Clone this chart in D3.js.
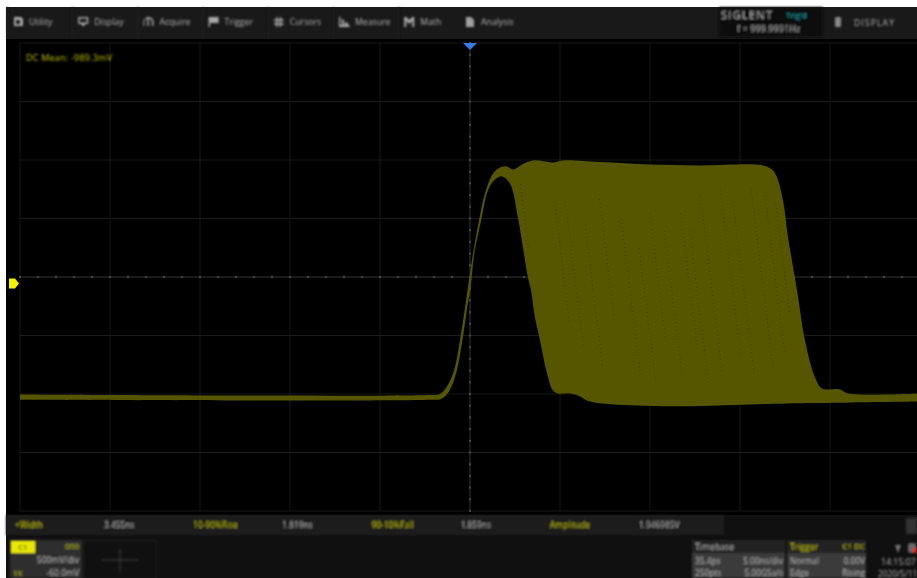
<!DOCTYPE html>
<html>
<head>
<meta charset="utf-8">
<script src="https://cdn.jsdelivr.net/npm/d3@7"></script>
<style>
  html, body { margin: 0; padding: 0; background: #fff; overflow: hidden; }
  svg { display: block; font-family: "Open Sans", Roboto, sans-serif; }
</style>
</head>
<body>
<div id="scope"></div>
<script>
// Waveform envelope (time in ns from the trigger, level in volts)
const upperTime = [-25, -2.22, -1.67, -1.28, -0.89, -0.5, -0.22, -0.06, 0.17, 0.5, 0.83, 1.28, 1.67, 2.06, 2.39, 2.89, 3.5, 4.61, 5.17, 7.22, 10, 12.78, 16.28, 16.78, 17.06, 17.39, 17.67, 18.17, 18.61, 19.17, 19.56, 20.56, 21, 25];
const upperVolt = [-0.949, -0.953, -0.944, -0.88, -0.744, -0.427, -0.145, 0.026, 0.256, 0.538, 0.769, 0.94, 0.991, 1.0, 0.974, 1.017, 1.051, 1.034, 1.051, 1.038, 1.017, 1.009, 1.009, 0.974, 0.906, 0.71, 0.393, -0.06, -0.487, -0.803, -0.897, -0.906, -0.94, -0.94];
const lowerTime = [-25, -2.22, -1.61, -1.17, -0.76, -0.38, -0.11, 0.02, 0.24, 0.62, 1.0, 1.39, 1.78, 2.22, 2.67, 3.22, 3.39, 3.61, 3.89, 4.28, 4.61, 4.89, 5.56, 6, 6.67, 9.28, 12.94, 17.61, 20.39, 21.28, 25];
const lowerVolt = [-0.995, -0.995, -0.987, -0.923, -0.761, -0.444, -0.162, -0.06, 0.256, 0.538, 0.795, 0.889, 0.915, 0.855, 0.556, 0.051, -0.06, -0.291, -0.487, -0.769, -0.915, -0.94, -0.94, -0.957, -1.009, -1.043, -1.047, -1.026, -1.02, -1.017, -1.009];

// Dark dotted streaks inside the band
const streakTime = [2.8, 4.7, 5.3, 6.4, 7.2, 8.4, 9.4, 10, 10.8, 11.7, 12.2, 12.8, 13.9, 14.6, 15.6, 16.4, 17.0];
const streakHigh = [0.85, 0.7, 0.7, 0.5, 0.72, 0.55, 0.3, 0.6, 0.45, 0.6, 0.45, 0.75, 0.8, 0.7, 0.82, 0.75, 0.68];
const streakLow = [0.3, -0.35, -0.55, -0.7, -0.3, -0.78, -0.85, -0.5, -0.8, -0.55, -0.85, -0.75, -0.6, -0.78, -0.72, -0.6, -0.25];

// Screen text
const menuItems = ["Utility", "Display", "Acquire", "Trigger", "Cursors", "Measure", "Math"];
const menuIcons = [
  "M1,-5 h7 l2,2 v7 h-9 z M3,-2 v4 h4 v-4 z",
  "M0,-5 h10 v7 h-3 l-1,2 h-2 l-1,-2 h-3 z M1.5,-3.5 v4 h7 v-4 z",
  "M0,4 v-5 q2,-4 5,-4 q4,0 5,4 v5 h-1.5 v-5 q-1,-2.5 -3,-2.5 v7.5 h-1.5 v-7.5 q-2,0 -3,2.5 v5 z",
  "M0,-5 h10 v6 h-8.5 v4 h-1.5 z",
  "M0,-2.5 h10 v1.5 h-10 z M0,1 h10 v1.5 h-10 z M2.5,-5 h1.5 v10 h-1.5 z M6,-5 h1.5 v10 h-1.5 z",
  "M0,-5 h1.5 v8 h9 v2 h-10.5 z M3,-3 l2,1 v5 h-2 z M6,0 l3,1 v2 h-3 z",
  "M0,-5 h2 l3,3 l3,-3 h2 v10 h-2 v-6 l-3,3 l-3,-3 v6 h-2 z"
];
const measureNames = ["+Width", "10-90%Rise", "90-10%Fall", "Amplitude"];
const measureValues = ["3.455ns", "1.819ns", "1.859ns", "1.946985V"];
const timebaseRows = [["35.4ps", "5.00ns/div"], ["250pts", "5.00GSa/s"]];
const triggerRows = [["Normal", "0.00V"], ["Edge", "Rising"]];

const width = 917, height = 578;
const yellow = "#c4c400", grey = "#b4b4b4";

const root = d3.select("#scope").append("svg").attr("width", width).attr("height", height);

// The photo of the screen is soft everywhere
const defs = root.append("defs");
defs.append("filter").attr("id", "soft").attr("x", 0).attr("y", 0).attr("width", 1).attr("height", 1)
  .append("feGaussianBlur").attr("stdDeviation", 0.6);
defs.append("filter").attr("id", "softer").attr("x", "-5%").attr("y", "-50%").attr("width", "110%").attr("height", "200%")
  .append("feGaussianBlur").attr("stdDeviation", 0.85);

// 5 ns/div and 500 mV/div, channel offset -60 mV
const x = d3.scaleLinear().domain([-25, 25]).range([20, 920]);
const y = d3.scaleLinear().domain([-1.945, 2.055]).range([511, 43]);

// Frame
root.append("rect").attr("x", 6).attr("y", 7).attr("width", width - 6).attr("height", height - 7).attr("fill", "#101010");
root.append("rect").attr("x", 6).attr("y", 7).attr("width", width - 6).attr("height", 32).attr("fill", "#191919");
root.append("rect").attr("x", 6).attr("y", 39).attr("width", width - 6).attr("height", 476).attr("fill", "#000");

const plot = root.append("g").attr("filter", "url(#soft)");
const svg = root.append("g").attr("filter", "url(#softer)");

// Grid
const grid = plot.append("g");
const xTicks = d3.range(-25, 26, 5);
const yTicks = d3.range(-2, 2.01, 0.5).map((d) => d + 0.055);
const centreV = 0.055;
grid.selectAll(".vline").data(xTicks).join("line")
  .attr("x1", (d) => x(d)).attr("x2", (d) => x(d)).attr("y1", 43).attr("y2", 511)
  .attr("stroke", "#1a1a1a").attr("stroke-width", 1);
grid.selectAll(".hline").data(yTicks).join("line")
  .attr("x1", 20).attr("x2", 920).attr("y1", (d) => y(d)).attr("y2", (d) => y(d))
  .attr("stroke", "#1a1a1a").attr("stroke-width", 1);

// Centre cross with its minor ticks
grid.append("line").attr("x1", 20).attr("x2", 920).attr("y1", y(centreV)).attr("y2", y(centreV)).attr("stroke", "#262626");
grid.append("line").attr("x1", x(0)).attr("x2", x(0)).attr("y1", 50).attr("y2", 511).attr("stroke", "#262626");
grid.selectAll(".xminor").data(d3.range(-25, 25.01, 1)).join("rect")
  .attr("x", (d) => x(d) - 1).attr("y", y(centreV) - 1).attr("width", 2).attr("height", 2).attr("fill", "#484848");
grid.selectAll(".yminor").data(d3.range(-2, 2.01, 0.1)).join("rect")
  .attr("x", x(0) - 1).attr("y", (d) => y(d + centreV) - 1).attr("width", 2).attr("height", 2).attr("fill", "#484848");

// Waveform band: top edge left to right, then bottom edge back
const edge = d3.line().x((d) => x(d[0])).y((d) => y(d[1])).curve(d3.curveCatmullRom);
const upperEdge = upperTime.map((t, i) => [t, upperVolt[i]]);
const lowerEdge = lowerTime.map((t, i) => [t, lowerVolt[i]]).reverse();
plot.append("path")
  .attr("d", edge(upperEdge) + "L" + edge(lowerEdge).slice(1) + "Z")
  .attr("fill", "#565600");

plot.append("g").selectAll("line").data(streakTime).join("line")
  .attr("x1", (d) => x(d))
  .attr("y1", (d, i) => y(streakHigh[i]))
  .attr("x2", (d, i) => x(d + (streakHigh[i] - streakLow[i]) * 0.8))
  .attr("y2", (d, i) => y(streakLow[i]))
  .attr("stroke", "#3c3c00").attr("stroke-width", 1).attr("stroke-dasharray", "1 3");

// Trigger position and channel markers
plot.append("path").attr("d", `M${x(0) - 7},43 h14 l-7,7 z`).attr("fill", "#3a78e8");
plot.append("path").attr("d", `M9,${y(0) - 5} h6 l4,5 l-4,5 h-6 z`).attr("fill", "#f4f400");

svg.append("text").attr("x", 26).attr("y", 60.5).attr("font-size", 9).attr("textLength", 86).attr("fill", yellow).text("DC Mean: -989.3mV");

// Menu bar
const menuX = d3.scaleLinear().domain([0, 1]).range([13, 78.2]);
const menu = svg.append("g").selectAll("g").data(menuItems).join("g")
  .attr("transform", (d, i) => `translate(${menuX(i)},22)`);
menu.append("path").attr("d", (d, i) => menuIcons[i]).attr("fill", "#a8a8a8");
menu.append("rect").attr("x", -6).attr("y", -15).attr("width", 1).attr("height", 32).attr("fill", "#222");
menu.append("text").attr("x", 16).attr("y", 3).attr("font-size", 8.7).attr("fill", grey).text((d) => d);

svg.append("path").attr("d", "M466,17 h5 l3,3 v7 h-8 z").attr("fill", "#a0a0a0");
svg.append("text").attr("x", 481).attr("y", 25).attr("font-size", 8.7).attr("fill", grey).text("Analysis");

// Top right status block
svg.append("rect").attr("x", 719).attr("y", 7).attr("width", 104).attr("height", 30).attr("fill", "#111");
svg.append("text").attr("x", 721).attr("y", 18.5).attr("font-size", 11).attr("textLength", 51).attr("fill", "#b0b0b0").text("SIGLENT");
svg.append("text").attr("x", 786).attr("y", 18).attr("font-size", 8).attr("fill", "#1ab0b0").text("Trig'd");
svg.append("text").attr("x", 737).attr("y", 32).attr("font-size", 8.5).attr("textLength", 63).attr("fill", grey).text("f = 999.9991Hz");
svg.append("rect").attr("x", 835).attr("y", 17).attr("width", 6).attr("height", 10).attr("rx", 1).attr("fill", "#888");
svg.append("text").attr("x", 854).attr("y", 26).attr("font-size", 8.7).attr("textLength", 40).attr("fill", grey).text("DISPLAY");

// Measurement bar
svg.append("rect").attr("x", 6).attr("y", 515).attr("width", 718).attr("height", 20).attr("fill", "#1a1a1a");
const measureX = d3.scaleLinear().domain([0, 3]).range([15, 550]);
const measure = svg.append("g").selectAll("g").data(measureNames).join("g")
  .attr("transform", (d, i) => `translate(${measureX(i)},528)`);
measure.append("text").attr("font-size", 8.3).attr("fill", yellow).text((d) => d);
measure.append("text").attr("x", 89).attr("font-size", 8.3).attr("fill", grey).text((d, i) => measureValues[i]);
svg.append("rect").attr("x", 906).attr("y", 518).attr("width", 11).attr("height", 16).attr("fill", "#333");

// Channel descriptor
svg.append("rect").attr("x", 10).attr("y", 540).attr("width", 72).attr("height", 38).attr("fill", "#2e2e2e");
svg.append("rect").attr("x", 11).attr("y", 541).attr("width", 24).attr("height", 12).attr("fill", "#e8e800");
svg.append("text").attr("x", 23).attr("y", 550).attr("text-anchor", "middle").attr("font-size", 8).attr("fill", "#333").text("C1");
svg.append("text").attr("x", 79).attr("y", 549).attr("text-anchor", "end").attr("font-size", 7.5).attr("fill", yellow).text("D50");
svg.append("text").attr("x", 79).attr("y", 563).attr("text-anchor", "end").attr("font-size", 8.5).attr("fill", grey).text("500mV/div");
svg.append("text").attr("x", 13).attr("y", 576).attr("font-size", 8).attr("fill", yellow).text("1X");
svg.append("text").attr("x", 79).attr("y", 576).attr("text-anchor", "end").attr("font-size", 8.5).attr("fill", grey).text("-60.0mV");

// Empty slot next to the descriptor
svg.append("rect").attr("x", 84.5).attr("y", 540.5).attr("width", 72).attr("height", 38).attr("fill", "none").attr("stroke", "#222");
svg.append("line").attr("x1", 102).attr("x2", 138).attr("y1", 560).attr("y2", 560).attr("stroke", "#444");
svg.append("line").attr("x1", 120).attr("x2", 120).attr("y1", 549).attr("y2", 572).attr("stroke", "#444");

// Timebase and trigger panels
function infoPanel(px, w, title, titleRight, rows, rightEdge) {
  svg.append("rect").attr("x", px).attr("y", 540).attr("width", w).attr("height", 13).attr("fill", "#242424");
  svg.append("rect").attr("x", px).attr("y", 553).attr("width", w).attr("height", 25).attr("fill", "#3a3a3a");
  svg.append("text").attr("x", px + 3).attr("y", 550).attr("font-size", 8.7)
    .attr("fill", titleRight ? yellow : grey).text(title);
  if (titleRight) {
    svg.append("text").attr("x", rightEdge).attr("y", 549).attr("text-anchor", "end").attr("font-size", 8).attr("fill", yellow).text(titleRight);
  }
  rows.forEach((row, i) => {
    svg.append("text").attr("x", px + 3).attr("y", 563.5 + i * 12.5).attr("font-size", 8.3).attr("fill", grey).text(row[0]);
    svg.append("text").attr("x", rightEdge).attr("y", 563.5 + i * 12.5).attr("text-anchor", "end").attr("font-size", 8.3).attr("fill", grey).text(row[1]);
  });
}
infoPanel(692, 93, "Timebase", null, timebaseRows, 783);
infoPanel(787, 79, "Trigger", "C1 DC", triggerRows, 865);

// Clock
svg.append("text").attr("x", 881).attr("y", 565).attr("font-size", 8.8).attr("fill", grey).text("14:15:07");
svg.append("text").attr("x", 878).attr("y", 577).attr("font-size", 8.3).attr("fill", grey).text("2020/5/11");
svg.append("path").attr("d", "M895,545 h6 l-3,8 z").attr("fill", "#777");
svg.append("rect").attr("x", 908).attr("y", 543).attr("width", 8).attr("height", 10).attr("rx", 2).attr("fill", "#666");
svg.append("rect").attr("x", 913).attr("y", 548).attr("width", 4).attr("height", 5).attr("fill", "#d22");
</script>
</body>
</html>
